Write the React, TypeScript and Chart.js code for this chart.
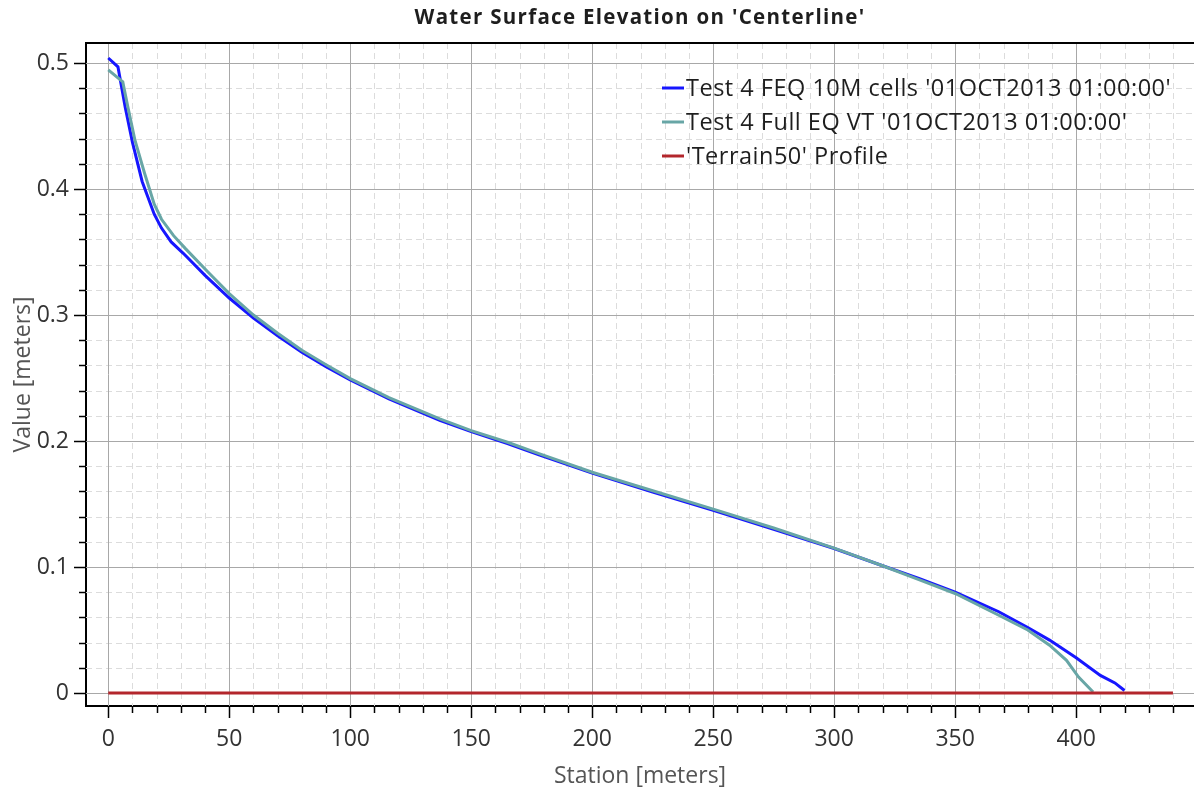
import React, { useEffect, useRef } from 'react';
import { Chart, registerables } from 'chart.js';

Chart.register(...registerables);

const chartTitle = "Water Surface Elevation on 'Centerline'";
const xAxisTitle = 'Station [meters]';
const yAxisTitle = 'Value [meters]';

const seriesLabels = [
  "Test 4 FEQ 10M cells '01OCT2013 01:00:00'",
  "Test 4 Full EQ VT '01OCT2013 01:00:00'",
  "'Terrain50' Profile",
];
const seriesColors = ['#1616ff', '#68a6a6', '#b3262c'];

const feqStation = [0, 4, 7, 10, 14, 19, 22, 26, 31, 40, 50, 60, 70, 80, 90, 100, 116, 137, 150, 165, 178, 200, 225, 250, 275, 300, 320, 335, 350, 368, 380, 389, 400, 410, 416, 420];
const feqValue = [0.504, 0.497, 0.465, 0.437, 0.406, 0.38, 0.369, 0.358, 0.349, 0.3315, 0.3135, 0.2975, 0.2835, 0.2705, 0.259, 0.2485, 0.2335, 0.2165, 0.2075, 0.198, 0.189, 0.1745, 0.1595, 0.145, 0.13, 0.1147, 0.101, 0.091, 0.08, 0.0645, 0.052, 0.042, 0.028, 0.014, 0.008, 0.002];

const fullStation = [0, 6, 8, 11, 15, 19, 22, 27, 32, 41, 50, 60, 70, 80, 90, 100, 116, 137, 150, 165, 178, 200, 225, 250, 275, 300, 320, 335, 350, 368, 380, 389, 396, 401, 407];
const fullValue = [0.4945, 0.485, 0.466, 0.439, 0.4125, 0.388, 0.376, 0.363, 0.3525, 0.3345, 0.317, 0.3, 0.2855, 0.272, 0.2605, 0.2495, 0.2345, 0.2175, 0.2083, 0.199, 0.19, 0.1752, 0.1605, 0.146, 0.131, 0.115, 0.101, 0.09, 0.079, 0.0617, 0.05, 0.038, 0.026, 0.0127, 0.0008];

const terrainStation = [0, 440];
const terrainValue = [0, 0];

const xMin = -9.2;
const xMax = 448.7;
const yMin = -0.0103;
const yMax = 0.5159;
const xMinorStep = 10;
const xMajorStep = 50;
const yMinorStep = 0.02;
const yMajorStep = 0.1;

const FONT = "'Open Sans', 'Noto Sans', sans-serif";

const toPoints = (xs: number[], ys: number[]) => xs.map((x, i) => ({ x, y: ys[i] }));

const isMultiple = (v: number, step: number) => Math.abs(v / step - Math.round(v / step)) < 1e-6;

const decorPlugin = {
  id: 'decor',
  beforeDatasetsDraw(chart: any) {
    const { ctx, chartArea } = chart;
    const xs = chart.scales.x;
    const ys = chart.scales.y;
    ctx.save();
    ctx.beginPath();
    ctx.rect(chartArea.left, chartArea.top, chartArea.right - chartArea.left, chartArea.bottom - chartArea.top);
    ctx.clip();
    ctx.lineWidth = 1;
    ctx.strokeStyle = '#dcdcdc';
    ctx.setLineDash([6, 4]);
    for (let v = Math.ceil(xMin / xMinorStep) * xMinorStep; v <= xMax; v += xMinorStep) {
      if (isMultiple(v, xMajorStep)) continue;
      const p = Math.round(xs.getPixelForValue(v)) + 0.5;
      ctx.beginPath();
      ctx.moveTo(p, chartArea.top);
      ctx.lineTo(p, chartArea.bottom);
      ctx.stroke();
    }
    for (let i = Math.ceil(yMin / yMinorStep); i * yMinorStep <= yMax; i++) {
      const v = i * yMinorStep;
      if (isMultiple(v, yMajorStep)) continue;
      const p = Math.round(ys.getPixelForValue(v)) + 0.5;
      ctx.beginPath();
      ctx.moveTo(chartArea.left, p);
      ctx.lineTo(chartArea.right, p);
      ctx.stroke();
    }
    ctx.setLineDash([]);
    ctx.strokeStyle = '#a8a8a8';
    for (let v = Math.ceil(xMin / xMajorStep) * xMajorStep; v <= xMax; v += xMajorStep) {
      const p = Math.round(xs.getPixelForValue(v)) + 0.5;
      ctx.beginPath();
      ctx.moveTo(p, chartArea.top);
      ctx.lineTo(p, chartArea.bottom);
      ctx.stroke();
    }
    for (let i = Math.ceil(yMin / yMajorStep); i * yMajorStep <= yMax + 1e-9; i++) {
      const v = i * yMajorStep;
      const p = Math.round(ys.getPixelForValue(v)) + 0.5;
      ctx.beginPath();
      ctx.moveTo(chartArea.left, p);
      ctx.lineTo(chartArea.right, p);
      ctx.stroke();
    }
    ctx.restore();
  },
  afterDraw(chart: any) {
    const { ctx, chartArea } = chart;
    const xs = chart.scales.x;
    const ys = chart.scales.y;
    ctx.save();
    // title
    ctx.fillStyle = '#1e1e1e';
    ctx.font = `bold 20.5px ${FONT}`;
    ctx.textAlign = 'center';
    ctx.textBaseline = 'middle';
    (ctx as any).letterSpacing = '1.3px';
    ctx.fillText(chartTitle, (chartArea.left + chartArea.right) / 2, 18);
    (ctx as any).letterSpacing = '0px';
    // top frame line
    ctx.strokeStyle = '#000';
    ctx.lineWidth = 2;
    ctx.beginPath();
    ctx.moveTo(chartArea.left - 1, chartArea.top);
    ctx.lineTo(chartArea.right, chartArea.top);
    ctx.stroke();
    // tick marks
    ctx.lineWidth = 1.5;
    for (let v = Math.ceil(xMin / xMinorStep) * xMinorStep; v <= xMax; v += xMinorStep) {
      const len = isMultiple(v, xMajorStep) ? 12 : 7;
      const p = Math.round(xs.getPixelForValue(v)) + 0.5;
      ctx.beginPath();
      ctx.moveTo(p, chartArea.bottom);
      ctx.lineTo(p, chartArea.bottom + len);
      ctx.stroke();
    }
    for (let i = Math.ceil(yMin / yMinorStep); i * yMinorStep <= yMax; i++) {
      const v = i * yMinorStep;
      const len = isMultiple(v, yMajorStep) ? 12 : 7;
      const p = Math.round(ys.getPixelForValue(v)) + 0.5;
      ctx.beginPath();
      ctx.moveTo(chartArea.left, p);
      ctx.lineTo(chartArea.left - len, p);
      ctx.stroke();
    }
    // legend inside the plot
    const lx = chartArea.left + 576;
    const ly = chartArea.top + 45;
    const gap = 34;
    ctx.font = `23.5px ${FONT}`;
    ctx.textBaseline = 'middle';
    ctx.textAlign = 'left';
    (ctx as any).letterSpacing = '0.5px';
    seriesLabels.forEach((label, i) => {
      const y = ly + i * gap;
      ctx.strokeStyle = seriesColors[i];
      ctx.lineWidth = 3;
      ctx.beginPath();
      ctx.moveTo(lx, y);
      ctx.lineTo(lx + 22, y);
      ctx.stroke();
      ctx.fillStyle = '#1e1e1e';
      ctx.fillText(label, lx + 24, y + 1);
    });
    (ctx as any).letterSpacing = '0px';
    ctx.restore();
  },
};

export default function App() {
  const canvasRef = useRef<HTMLCanvasElement | null>(null);

  useEffect(() => {
    const canvas = canvasRef.current;
    if (!canvas) return;
    const chart = new Chart(canvas, {
      type: 'line',
      data: {
        datasets: [
          {
            label: seriesLabels[0],
            data: toPoints(feqStation, feqValue),
            borderColor: seriesColors[0],
            backgroundColor: seriesColors[0],
            borderWidth: 3,
            pointRadius: 0,
            tension: 0,
            order: 1,
          },
          {
            label: seriesLabels[1],
            data: toPoints(fullStation, fullValue),
            borderColor: seriesColors[1],
            backgroundColor: seriesColors[1],
            borderWidth: 3,
            pointRadius: 0,
            tension: 0,
            order: 0,
          },
          {
            label: seriesLabels[2],
            data: toPoints(terrainStation, terrainValue),
            borderColor: seriesColors[2],
            backgroundColor: seriesColors[2],
            borderWidth: 3,
            pointRadius: 0,
            tension: 0,
            order: -1,
          },
        ],
      },
      options: {
        animation: false,
        responsive: false,
        devicePixelRatio: 1,
        layout: { padding: { top: 43, left: 0, right: 0, bottom: 0 } },
        plugins: {
          legend: { display: false },
          tooltip: { enabled: false },
          title: { display: false },
        },
        scales: {
          x: {
            type: 'linear',
            min: xMin,
            max: xMax,
            grid: { display: false, drawTicks: false },
            border: { display: true, color: '#000', width: 2 },
            ticks: {
              stepSize: xMinorStep,
              includeBounds: false,
              autoSkip: false,
              maxRotation: 0,
              padding: 20,
              color: '#333',
              font: { family: FONT, size: 23 },
              callback: (v: any) => (isMultiple(Number(v), xMajorStep) ? String(Math.round(Number(v))) : ''),
            },
            title: {
              display: true,
              text: xAxisTitle,
              color: '#555',
              font: { family: FONT, size: 23 },
              padding: { top: 0, bottom: 2 },
            },
            afterFit: (s: any) => {
              s.height = 86;
            },
          },
          y: {
            type: 'linear',
            min: yMin,
            max: yMax,
            grid: { display: false, drawTicks: false },
            border: { display: true, color: '#000', width: 2 },
            ticks: {
              stepSize: yMinorStep,
              includeBounds: false,
              autoSkip: false,
              padding: 17,
              color: '#333',
              font: { family: FONT, size: 23 },
              callback: (v: any) => {
                const n = Number(v);
                return isMultiple(n, yMajorStep) ? String(Number(n.toFixed(1))) : '';
              },
            },
            title: {
              display: true,
              text: yAxisTitle,
              color: '#555',
              font: { family: FONT, size: 23 },
              padding: { top: 10, bottom: 0 },
            },
            afterFit: (s: any) => {
              s.width = 86;
            },
          },
        },
      },
      plugins: [decorPlugin],
    } as any);
    return () => chart.destroy();
  }, []);

  return (
    <div style={{ position: 'fixed', left: 0, top: 0, width: 1194, height: 792, background: '#fff' }}>
      <canvas ref={canvasRef} width={1194} height={792} style={{ display: 'block' }} />
    </div>
  );
}
